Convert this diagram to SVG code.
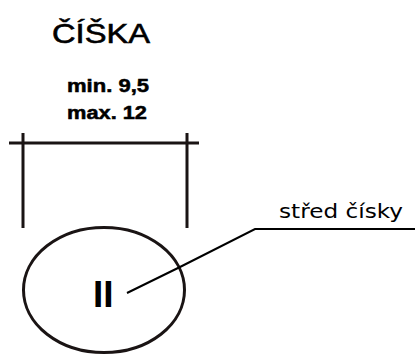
<svg xmlns="http://www.w3.org/2000/svg" width="415" height="354" viewBox="0 0 415 354">
<style>
.ln{stroke:#1a1414;fill:none;stroke-width:3}
.t{font-family:"Liberation Sans",Arial,sans-serif;fill:#000}
</style>
<rect width="415" height="354" fill="#fff"/>
<g id="title"><text class="t" x="52" y="43" font-size="28" stroke="#000" stroke-width="0.6" textLength="98" lengthAdjust="spacingAndGlyphs">ČÍŠKA</text></g>
<g id="dimension">
<text class="t" x="67" y="92" font-size="18" font-weight="bold" stroke="#000" stroke-width="0.5" textLength="82" lengthAdjust="spacingAndGlyphs">min. 9,5</text>
<text class="t" x="67" y="119" font-size="18" font-weight="bold" stroke="#000" stroke-width="0.5" textLength="80" lengthAdjust="spacingAndGlyphs">max. 12</text>
<path class="ln" d="M9 143H199M23 133V228M187 133V228"/>
</g>
<g id="cup">
<ellipse class="ln" cx="104" cy="290" rx="80.5" ry="62.5"/>
<text class="t" x="93" y="307" font-size="37" font-weight="bold">II</text>
</g>
<g id="connectors">
<path d="M127 293L180 267L255 229H415" stroke="#000" stroke-width="2" fill="none"/>
</g>
<g id="label"><text class="t" x="279" y="218" font-size="19" style="font-family:'DejaVu Sans',sans-serif" textLength="124" lengthAdjust="spacingAndGlyphs">střed čísky</text></g>
</svg>
